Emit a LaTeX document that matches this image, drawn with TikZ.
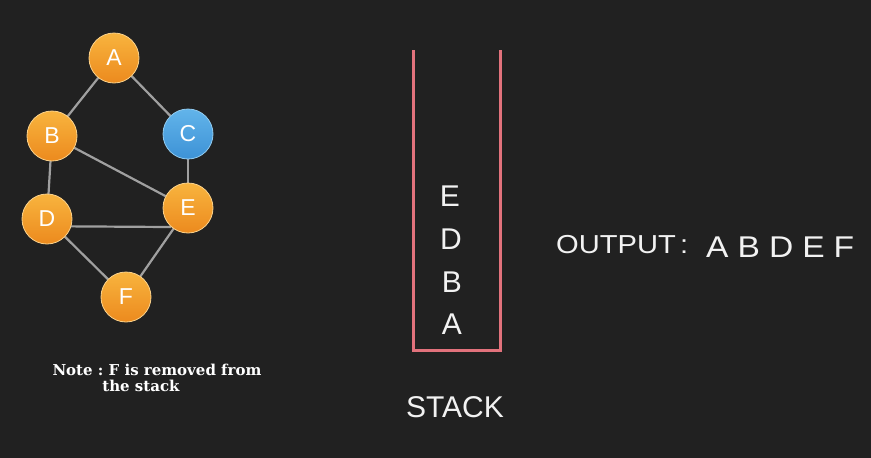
\documentclass[tikz,border=0pt]{standalone}
\usepackage{fontspec}
\setmainfont{Liberation Sans}
\newfontfamily\notefont{DejaVu Serif}
\newfontfamily\widefont[FakeStretch=1.12]{Liberation Sans}
\usetikzlibrary{calc}
\definecolor{bgc}{HTML}{212121}
\definecolor{orgtop}{HTML}{F8B43E}
\definecolor{orgbot}{HTML}{EC8A1E}
\definecolor{bluetop}{HTML}{62B4EA}
\definecolor{bluebot}{HTML}{3D92D6}
\definecolor{edgec}{HTML}{A0A0A0}
\definecolor{stackc}{HTML}{E2727C}
\definecolor{txtc}{HTML}{F2F2F2}
\begin{document}
\begin{tikzpicture}[x=1pt,y=-1pt,
  vert/.style={circle,minimum size=50pt,inner sep=0pt,draw=orgtop!60!white,line width=0.8pt,
    top color=orgtop,bottom color=orgbot,text=white,font=\fontsize{23}{23}\selectfont},
  bvert/.style={vert,draw=bluetop!70!white,top color=bluetop,bottom color=bluebot},
  edge/.style={draw=edgec,line width=2.2pt},
  stk/.style={text=txtc,font=\fontsize{30}{30}\selectfont}]
\fill[bgc] (0,0) rectangle (871,458);
\useasboundingbox (0,0) rectangle (871,458);
% graph: coordinates first, edges, then nodes on top
\coordinate (pA) at (114,58);
\coordinate (pB) at (52,136);
\coordinate (pC) at (188,134);
\coordinate (pE) at (188,208);
\coordinate (pD) at (47,219);
\coordinate (pF) at (126,297);
\node[circle,minimum size=50pt] (A) at (pA) {};
\node[circle,minimum size=50pt] (B) at (pB) {};
\node[circle,minimum size=50pt] (C) at (pC) {};
\node[circle,minimum size=50pt] (E) at (pE) {};
\node[circle,minimum size=50pt] (D) at (pD) {};
\node[circle,minimum size=50pt] (F) at (pF) {};
\draw[edge] (A) -- (B);
\draw[edge] (A) -- (C);
\draw[edge] (B) -- (D);
\draw[edge] (B) -- (E);
\draw[edge] (C) -- (E);
\draw[edge] (D.-17) -- (E.229);
\draw[edge] (D) -- (F);
\draw[edge] (E) -- (F);
\node[vert] (nA) at (pA) {A};
\node[vert] (nB) at (pB) {B};
\node[bvert] (nC) at (pC) {C};
\node[vert] (nE) at (pE) {E};
\node[vert] (nD) at (pD) {D};
\node[vert] (nF) at (pF) {F};
% note
\node[text=white,align=center,font=\notefont\bfseries\fontsize{15}{16}\selectfont] (note) at (157,378)
  {Note\ :\ F\ is\ removed\ from\\the\ stack\hspace*{32pt}};
% stack
\coordinate (s1) at (413,50);
\coordinate (s2) at (413,350);
\coordinate (s3) at (500,350);
\coordinate (s4) at (500,50);
\draw[stackc,line width=3pt,line join=miter] (s1) -- (s2) -- (s3) -- (s4);
\node[stk] (sE) at (450,196) {E};
\node[stk] (sD) at (451,239) {D};
\node[stk] (sB) at (452,282) {B};
\node[stk] (sA) at (452,324) {A};
\node[text=txtc,font=\fontsize{30}{30}\selectfont] (stacklbl) at (455,407) {STACK};
% output
\node[text=txtc,anchor=west,font=\widefont\fontsize{26}{26}\selectfont,inner sep=0pt] (out) at (556,245) {OUTPUT\,:};
\node[text=txtc,anchor=west,font=\widefont\fontsize{30}{30}\selectfont,inner sep=0pt] (outv) at (706,247) {A\hspace{9pt}B\hspace{9pt}D\hspace{9pt}E\hspace{9pt}F};
\end{tikzpicture}
\end{document}
